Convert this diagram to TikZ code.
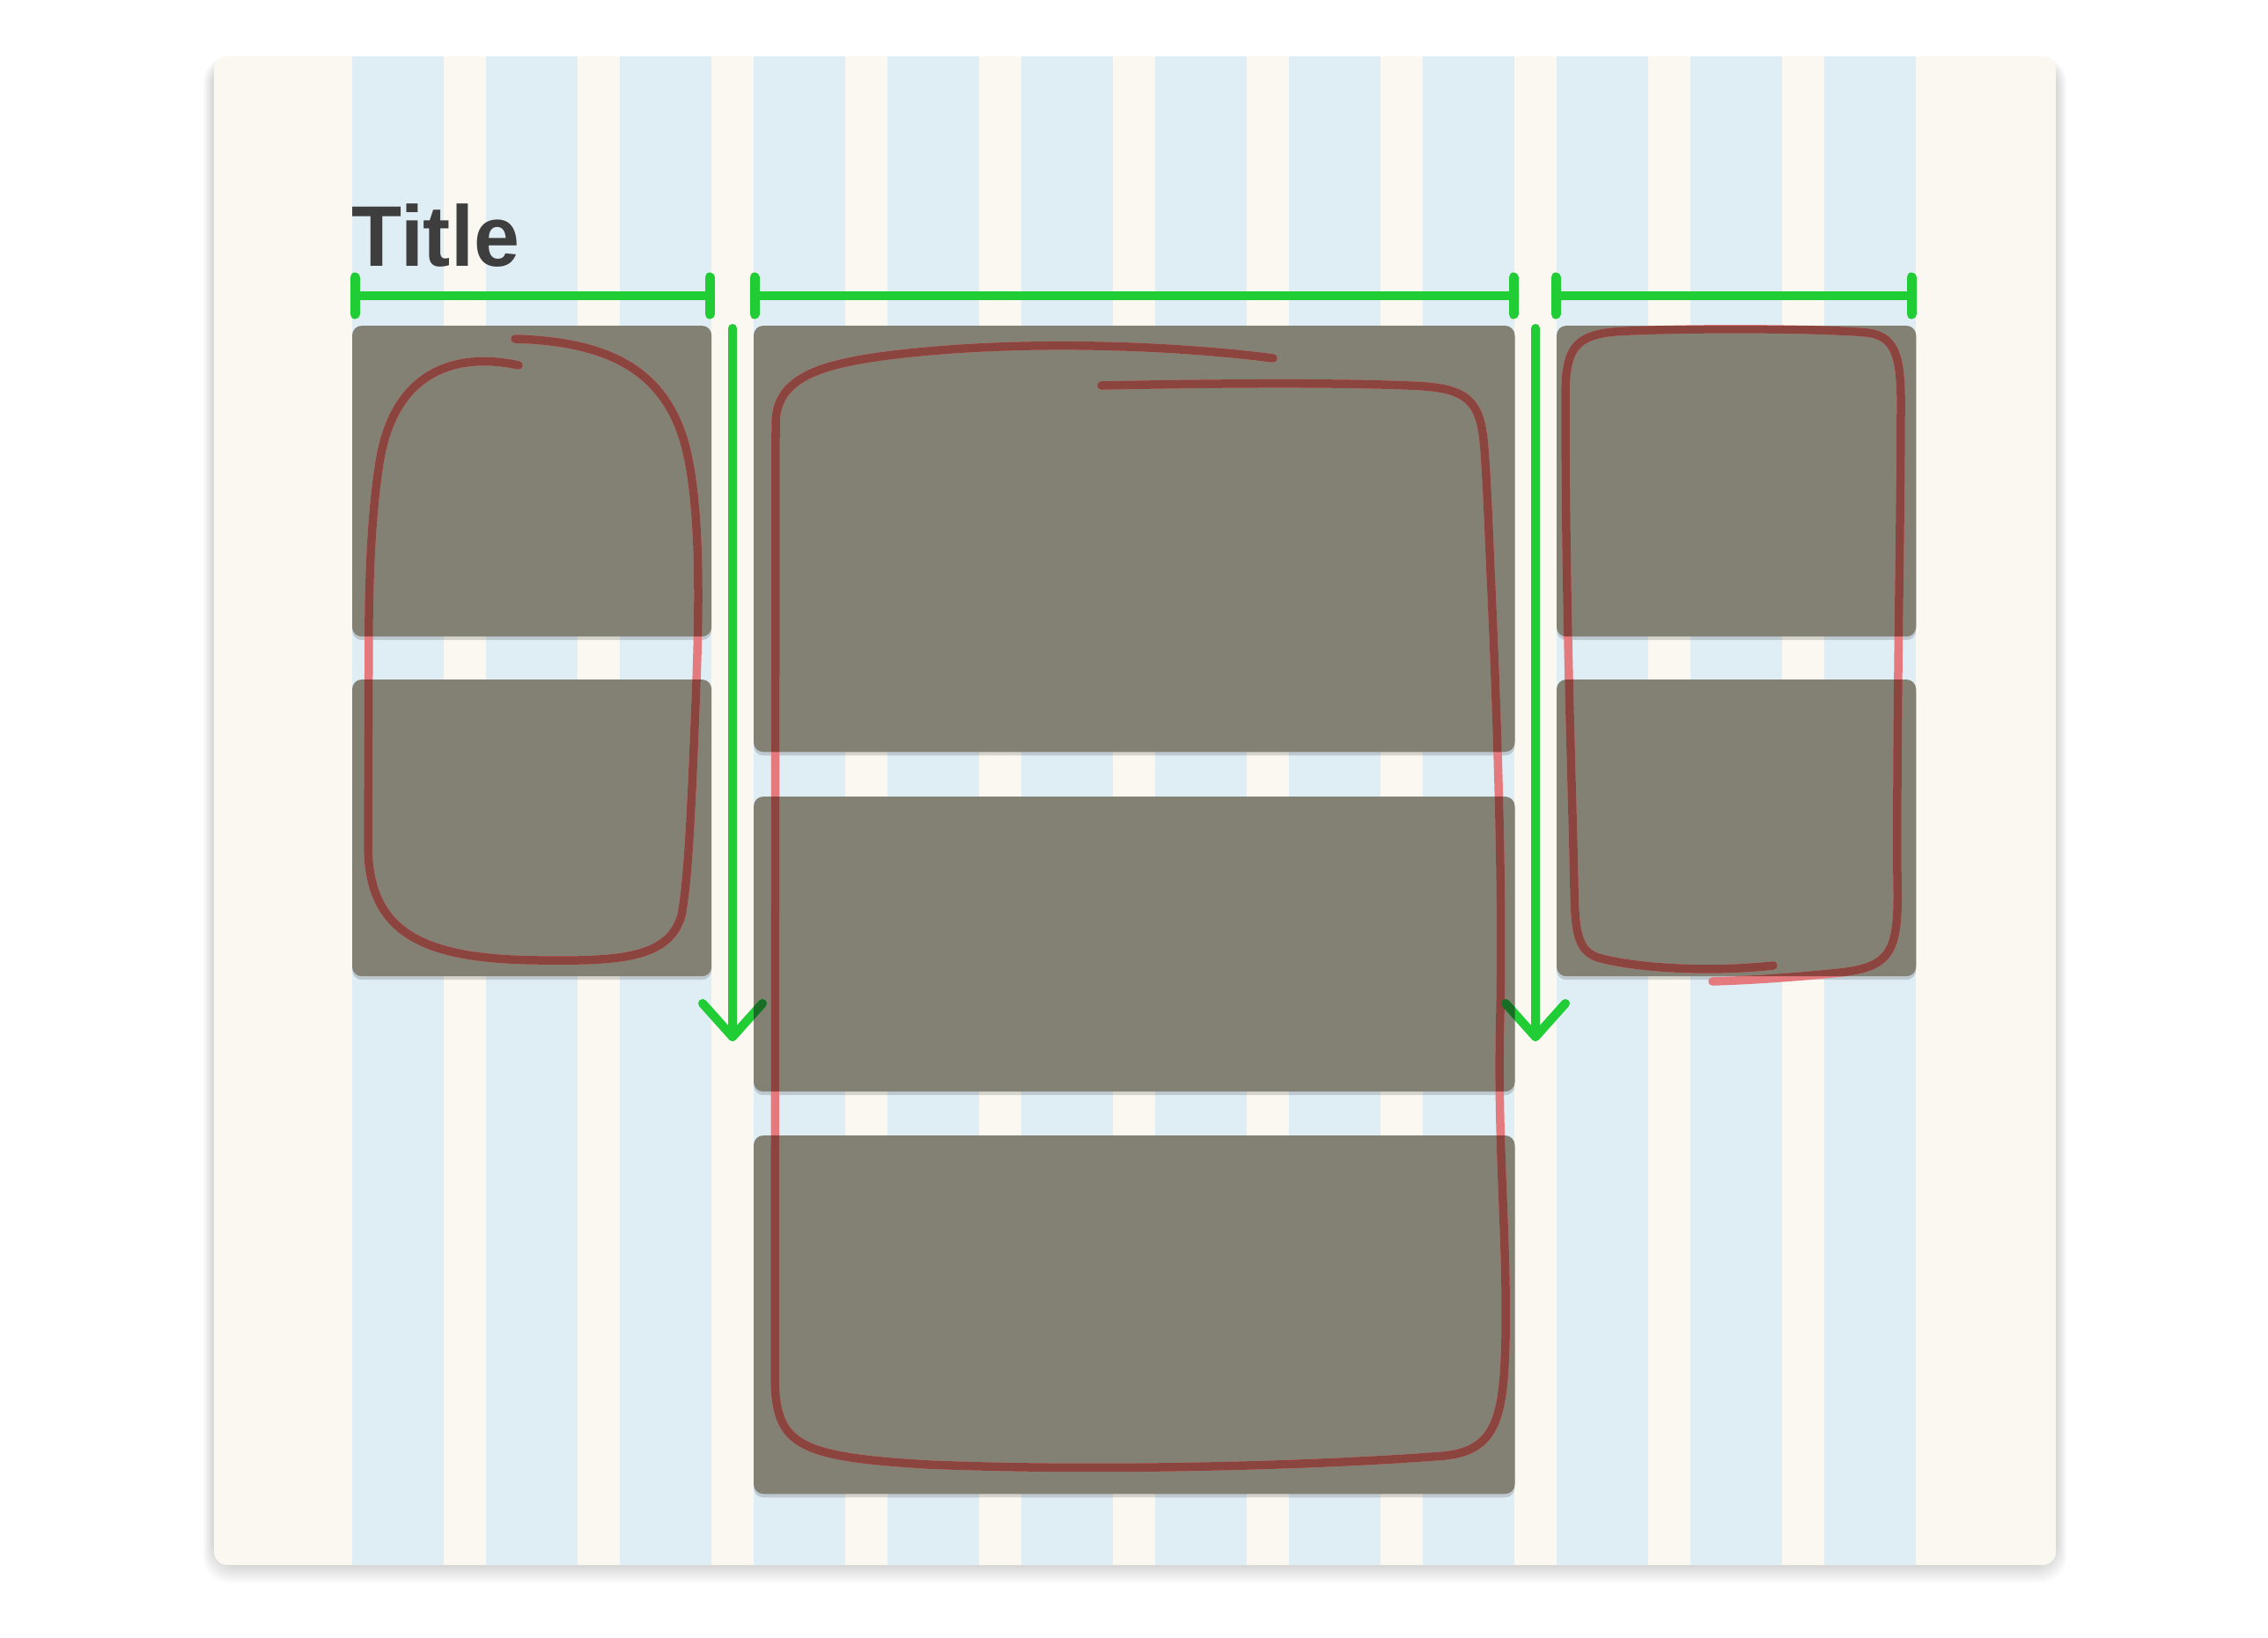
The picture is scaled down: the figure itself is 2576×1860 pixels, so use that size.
\documentclass[tikz,border=0pt]{standalone}
\usepackage{fontspec}
\newfontfamily\titlefont{Liberation Sans}
\usetikzlibrary{shadows}
\definecolor{paper}{RGB}{250,248,240}
\definecolor{stripe}{RGB}{223,237,244}
\definecolor{boxgray}{RGB}{131,128,116}
\definecolor{titlegray}{RGB}{62,62,62}
\definecolor{gbright}{RGB}{32,205,52}
\definecolor{gdark}{RGB}{24,110,36}
\definecolor{rpink}{RGB}{228,122,126}
\definecolor{rdark}{RGB}{140,68,62}
\newcommand\drawRedLoops[1]{%
  % left loop
  \draw[redline,#1] (589,415) .. controls (520,400) and (450,420) .. (432,520)
    .. controls (425,560) and (420,620) .. (419,700) -- (418,960)
    .. controls (418,1060) and (480,1090) .. (613,1091)
    .. controls (700,1092) and (760,1090) .. (774,1040)
    .. controls (782,1000) and (786,900) .. (790,800)
    .. controls (795,680) and (796,560) .. (775,495)
    .. controls (750,420) and (690,388) .. (585,385);
  % middle loop
  \draw[redline,#1] (1446,407) .. controls (1330,392) and (1150,385) .. (1000,405)
    .. controls (930,415) and (882,430) .. (881,480) -- (880,1560)
    .. controls (880,1640) and (900,1655) .. (1055,1664)
    .. controls (1250,1672) and (1500,1665) .. (1640,1654)
    .. controls (1700,1648) and (1708,1610) .. (1710,1520)
    .. controls (1712,1400) and (1700,1300) .. (1704,1150)
    .. controls (1707,1000) and (1700,800) .. (1693,650)
    .. controls (1690,580) and (1688,530) .. (1685,500)
    .. controls (1680,450) and (1660,440) .. (1600,438)
    .. controls (1500,434) and (1350,436) .. (1251,438);
  % right loop
  \draw[redline,#1] (2014,1097) .. controls (1930,1106) and (1850,1098) .. (1815,1088)
    .. controls (1792,1080) and (1789,1060) .. (1788,1010)
    .. controls (1786,900) and (1778,700) .. (1778,450)
    .. controls (1778,392) and (1790,378) .. (1850,376)
    .. controls (1950,372) and (2080,374) .. (2121,378)
    .. controls (2150,382) and (2158,400) .. (2159,450)
    .. controls (2159,600) and (2154,800) .. (2155,1000)
    .. controls (2157,1085) and (2148,1100) .. (2080,1106)
    .. controls (2030,1111) and (1980,1114) .. (1945,1115);
}
\newcommand\drawGreenArrows[1]{%
  \draw[gline,#1] (aLtop) -- (aLtip);
  \draw[gline,#1] (aLtip) ++(-34,-38) -- (aLtip) -- ++(34,-38);
  \draw[gline,#1] (aRtop) -- (aRtip);
  \draw[gline,#1] (aRtip) ++(-34,-38) -- (aRtip) -- ++(34,-38);
}
\begin{document}
\begin{tikzpicture}[x=0.01cm, y=-0.01cm, line join=round, line cap=round,
  panel/.style={rectangle, fill=boxgray, rounded corners=1.1mm, inner sep=0pt, outer sep=0pt, anchor=north west,
    drop shadow={shadow xshift=0pt, shadow yshift=-0.4mm, opacity=0.15, fill=black}},
  redline/.style={line width=0.095cm},
  gline/.style={line width=0.10cm, draw=gbright},
  tickline/.style={line width=0.11cm, draw=gbright}]
\useasboundingbox (0,0) rectangle (2576,1860);
\fill[white] (0,0) rectangle (2576,1860);
% paper shadow
\foreach \k in {1,...,8}
  \fill[black, opacity=0.02, rounded corners=3mm] ({243-1.5*\k},{68-0.5*\k}) rectangle ({2335+1.5*\k},{1778+2.5*\k});
% paper
\fill[paper, rounded corners=1.5mm] (243,64) rectangle (2335,1778);
% column stripes
\foreach \i in {0,...,11}
  \fill[stripe] ({400+152*\i},64) rectangle ({504+152*\i},1778);
% title
\node[anchor=base west, inner sep=0pt, text=titlegray, xscale=0.955, font=\titlefont\bfseries\fontsize{27.8pt}{30pt}\selectfont] (title) at (399,302) {Title};
% panels
\node[panel, minimum width=4.08cm, minimum height=3.53cm] (L1) at (400,370) {};
\node[panel, minimum width=4.08cm, minimum height=3.37cm] (L2) at (400,772) {};
\node[panel, minimum width=8.64cm, minimum height=4.84cm] (M1) at (856,370) {};
\node[panel, minimum width=8.64cm, minimum height=3.35cm] (M2) at (856,905) {};
\node[panel, minimum width=8.64cm, minimum height=4.07cm] (M3) at (856,1290) {};
\node[panel, minimum width=4.08cm, minimum height=3.53cm] (R1) at (1768,370) {};
\node[panel, minimum width=4.08cm, minimum height=3.37cm] (R2) at (1768,772) {};
% coordinates of the green marks
\coordinate (bL1) at (403,336); \coordinate (bL2) at (806,336);
\coordinate (bM1) at (857,336); \coordinate (bM2) at (1719,336);
\coordinate (bR1) at (1767,336); \coordinate (bR2) at (2171,336);
\coordinate (aLtop) at (832,373); \coordinate (aLtip) at (832,1178);
\coordinate (aRtop) at (1744,373); \coordinate (aRtip) at (1744,1178);
% brackets
\foreach \a/\b in {bL1/bL2, bM1/bM2, bR1/bR2}{
  \draw[gline] (\a) -- (\b);
  \draw[tickline] (\a) ++(0,-21) -- ++(0,42);
  \draw[tickline] (\b) ++(0,-21) -- ++(0,42);
}
% red loops and arrows
\drawRedLoops{draw=rpink}
\drawGreenArrows{}
\begin{scope}
  \clip[rounded corners=1.1mm] (L1.north west) rectangle (L1.south east)
    (L2.north west) rectangle (L2.south east)
    (M1.north west) rectangle (M1.south east)
    (M2.north west) rectangle (M2.south east)
    (M3.north west) rectangle (M3.south east)
    (R1.north west) rectangle (R1.south east)
    (R2.north west) rectangle (R2.south east);
  \drawRedLoops{draw=rdark}
  \drawGreenArrows{draw=gdark}
\end{scope}
\end{tikzpicture}
\end{document}
